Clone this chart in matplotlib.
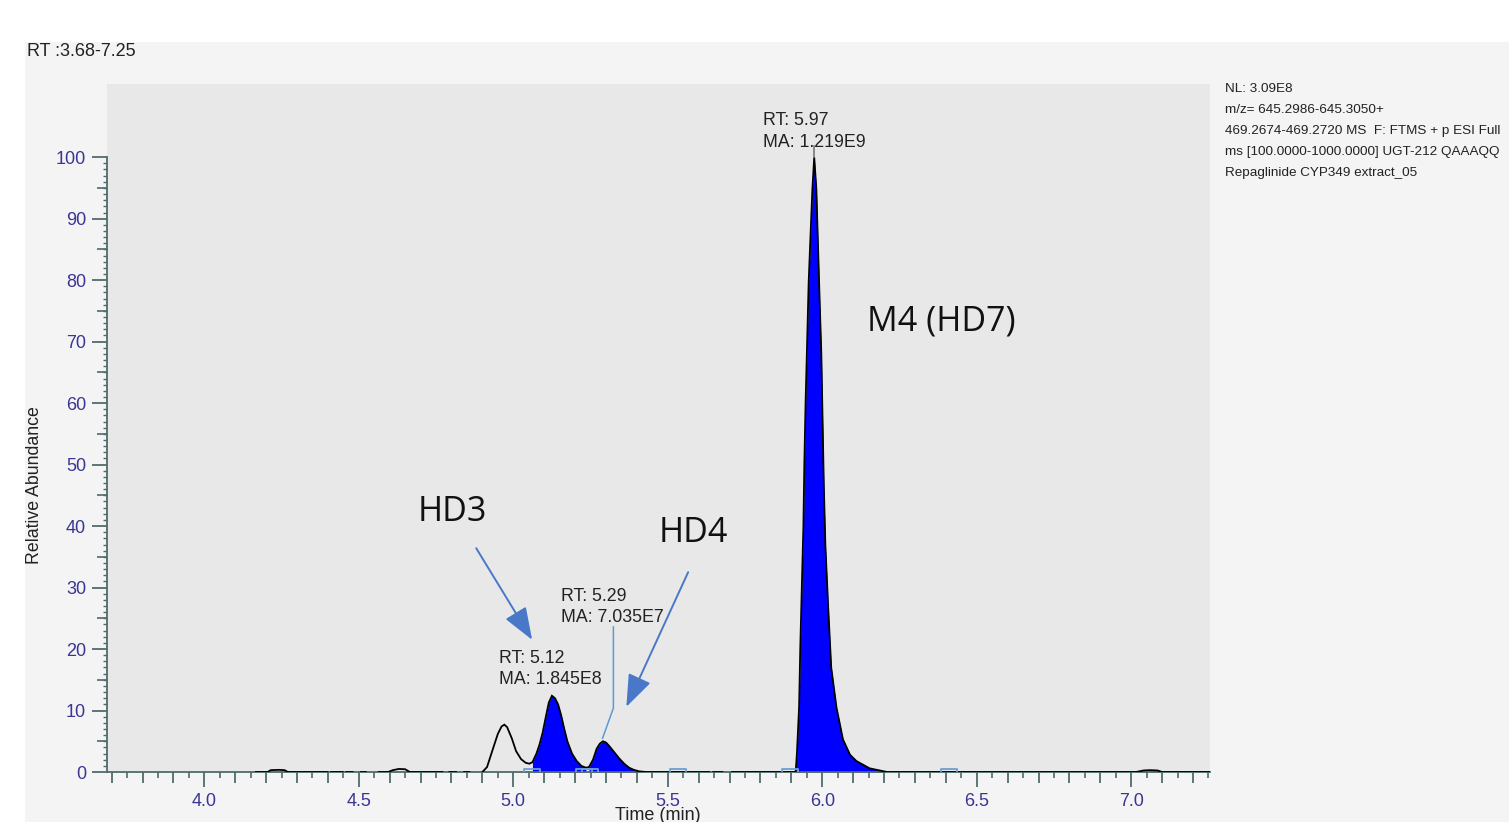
import numpy as np
import matplotlib
matplotlib.use("Agg")
import matplotlib.pyplot as plt
from matplotlib.patches import Rectangle

nan = np.nan

# ---- data ----
time_min = [4.167, 4.205, 4.215, 4.24, 4.26, 4.27, 4.399, nan, 4.41, 4.448, nan,
            4.459, 4.48, nan, 4.507, 4.523, nan, 4.564, 4.595, 4.61, 4.63, 4.65,
            4.665, 4.771, nan, 4.793, 4.815, nan, 4.841, 4.858, nan,
            4.90, 4.915, 4.935, 4.95, 4.962, 4.971, 4.98, 4.995, 5.009, 5.025,
            5.04, 5.052, 5.062, 5.075, 5.085, 5.095, 5.105, 5.115, 5.125, 5.135,
            5.145, 5.155, 5.165, 5.175, 5.19, 5.205, 5.22, 5.235, 5.245, 5.258,
            5.27, 5.28, 5.29, 5.30, 5.311, 5.327, 5.343, 5.36, 5.375, 5.39,
            5.408, 5.43, 5.55, 5.634, nan, 5.647, 5.677, nan, 5.708, 5.80, 5.895,
            5.914, 5.918, 5.925, 5.929, 5.934, 5.939, 5.942, 5.946, 5.951, 5.956,
            5.961, 5.968, 5.974, 5.981, 5.986, 5.992, 5.997, 6.000, 6.005, 6.010,
            6.019, 6.029, 6.046, 6.067, 6.09, 6.11, 6.153, 6.20, 6.21, 6.50, 6.80,
            7.00, 7.016, 7.04, 7.06, 7.085, 7.10, 7.20, 7.255]
rel_abundance = [0.0, 0.0, 0.3, 0.35, 0.3, 0.0, 0.0, nan, 0.0, 0.0, nan,
                 0.0, 0.0, nan, 0.0, 0.0, nan, 0.0, 0.0, 0.3, 0.5, 0.45,
                 0.0, 0.0, nan, 0.0, 0.0, nan, 0.0, 0.0, nan,
                 0.0, 0.8, 3.9, 6.2, 7.4, 7.7, 7.3, 5.5, 3.4, 2.1,
                 1.5, 1.35, 1.6, 3.0, 4.5, 6.4, 8.9, 11.3, 12.4, 12.0,
                 11.0, 9.2, 7.0, 5.0, 3.0, 1.8, 1.0, 0.7, 0.8, 2.0,
                 3.8, 4.6, 5.0, 4.8, 4.2, 3.2, 2.2, 1.3, 0.7, 0.35,
                 0.1, 0.0, 0.0, 0.0, nan, 0.0, 0.0, nan, 0.0, 0.0, 0.0,
                 0.0, 3.0, 10.5, 20.4, 30.3, 40.0, 50.0, 60.0, 69.7, 79.6,
                 86.0, 94.7, 100.0, 94.7, 86.0, 76.0, 68.0, 60.0, 46.7, 37.0,
                 27.0, 17.0, 10.5, 5.3, 2.8, 1.8, 0.6, 0.1, 0.0, 0.0, 0.0,
                 0.0, 0.0, 0.25, 0.3, 0.25, 0.0, 0.0, 0.0]

# integrated peak windows (start, end) in minutes
peak_windows = [(5.06, 5.236), (5.244, 5.41), (5.91, 6.21)]
# peak boundary markers
boundary_times = [5.062, 5.23, 5.248, 5.534, 5.895, 6.411]

peak_labels = [("RT: 5.97", "MA: 1.219E9"), ("RT: 5.29", "MA: 7.035E7"),
               ("RT: 5.12", "MA: 1.845E8")]

x_ticks = [4.0, 4.5, 5.0, 5.5, 6.0, 6.5, 7.0]
x_tick_labels = ["4.0", "4.5", "5.0", "5.5", "6.0", "6.5", "7.0"]
y_ticks = [0, 10, 20, 30, 40, 50, 60, 70, 80, 90, 100]

info_lines = ["NL: 3.09E8",
              "m/z= 645.2986-645.3050+",
              "469.2674-469.2720 MS  F: FTMS + p ESI Full",
              "ms [100.0000-1000.0000] UGT-212 QAAAQQ",
              "Repaglinide CYP349 extract_05"]

# ---- figure ----
W, H = 1509, 822
fig = plt.figure(figsize=(W / 100, H / 100), dpi=100)
fig.patch.set_facecolor("white")
fig.add_artist(Rectangle((25 / W, 0), 1, (H - 42) / H, transform=fig.transFigure,
                         facecolor="#f4f4f4", edgecolor="none", zorder=-10))

ax = fig.add_axes([107 / W, 50 / H, 1103 / W, 688 / H])
ax.set_facecolor("#e8e8e8")
ax.set_xlim(3.685, 7.255)
ax.set_ylim(0, 111.9)

t = np.array(time_min, dtype=float)
v = np.array(rel_abundance, dtype=float)

for a, b in peak_windows:
    m = (t >= a) & (t <= b)
    ax.fill_between(t, 0, v, where=m, color="#0000ff", lw=0, zorder=2)
ax.plot(t, v, color="black", lw=1.3, zorder=3, solid_joinstyle="miter")

ax.plot(boundary_times, [0] * len(boundary_times), linestyle="none",
        marker=[(-1, 0), (-1, 0.45), (1, 0.45), (1, 0)], markersize=11,
        markerfacecolor="none", markeredgecolor="#6a9fd4", markeredgewidth=1.3,
        zorder=4)

# ticks / spines
tick_col = "#4f6b6b"
lab_col = "#3b3594"
for s in ["top", "right"]:
    ax.spines[s].set_visible(False)
ax.spines["left"].set_bounds(0, 100)
for s in ["left", "bottom"]:
    ax.spines[s].set_color(tick_col)
    ax.spines[s].set_linewidth(1.3)

ax.set_xticks(x_ticks)
ax.set_xticklabels(x_tick_labels)
ax.set_xticks(np.arange(3.7, 7.26, 0.1), minor=True)
ax.set_yticks(y_ticks)
ax.set_yticklabels([str(y) for y in y_ticks])
ax.set_yticks(np.arange(0, 101, 1), minor=True)
ax.tick_params(axis="both", which="major", color=tick_col, width=1.3, length=11,
               labelcolor=lab_col, labelsize=13, pad=4)
ax.tick_params(axis="x", which="minor", color=tick_col, width=1.3, length=8)
ax.tick_params(axis="y", which="minor", color=tick_col, width=1.0, length=3)
for lab in ax.get_xticklabels() + ax.get_yticklabels():
    lab.set_fontfamily("Liberation Sans")

secx = ax.secondary_xaxis("bottom")
secx.set_xticks(np.arange(3.75, 7.26, 0.1))
secx.set_xticklabels([])
secx.tick_params(color=tick_col, width=1.2, length=4.5)
secx.spines["bottom"].set_visible(False)

secy = ax.secondary_yaxis("left")
secy.set_yticks(np.arange(5, 100, 10))
secy.set_yticklabels([])
secy.tick_params(color=tick_col, width=1.2, length=7)
secy.spines["left"].set_visible(False)

# texts
sans = "Liberation Sans"
fig.text(27 / W, 1 - 52 / H, "RT :3.68-7.25", ha="left", va="center",
         fontsize=13, family=sans, color="#222222")
for i, line in enumerate(info_lines):
    fig.text(1225 / W, 1 - (89 + 21 * i) / H, line, ha="left", va="center",
             fontsize=9.7, family=sans, color="#222222")
fig.text(35 / W, 1 - 485 / H, "Relative Abundance", rotation=90, ha="center",
         va="center", fontsize=12.8, family=sans, color="#222222")
fig.text(658 / W, 1 - 807 / H, "Time (min)", ha="center", va="top",
         fontsize=13, family=sans, color="#222222")

# peak labels (RT / MA)
label_pos = [(5.809, 105.9), (5.155, 28.6), (4.955, 18.5)]
for (l1, l2), (x0, y0) in zip(peak_labels, label_pos):
    ax.text(x0, y0, l1, ha="left", va="center", fontsize=12.8, family=sans,
            color="#222222", zorder=5)
    ax.text(x0, y0 - 3.5, l2, ha="left", va="center", fontsize=12.8, family=sans,
            color="#222222", zorder=5)
ax.plot([5.974, 5.974], [100, 101.8], color="#777777", lw=1.2, zorder=4)
ax.plot([5.324, 5.324, 5.289], [23.6, 10.4, 5.5], color="#5b9bd5", lw=1.1, zorder=4)

# compound labels and arrows
big = "Open Sans"
ax.text(4.689, 42.3, "HD3", ha="left", va="center", fontsize=24.5, family=big,
        color="#111111")
ax.text(5.472, 38.8, "HD4", ha="left", va="center", fontsize=24.5, family=big,
        color="#111111")
ax.text(6.146, 73.2, "M4 (HD7)", ha="left", va="center", fontsize=24.5, family=big,
        color="#111111")
arrow_kw = dict(arrowstyle="-|>,head_length=0.8,head_width=0.3", color="#4a78c8",
                lw=1.4, mutation_scale=25, shrinkA=0, shrinkB=0)
ax.annotate("", xy=(5.061, 21.5), xytext=(4.880, 36.4), arrowprops=arrow_kw)
ax.annotate("", xy=(5.366, 10.6), xytext=(5.566, 32.5), arrowprops=arrow_kw)

fig.savefig("out.png", dpi=100)
